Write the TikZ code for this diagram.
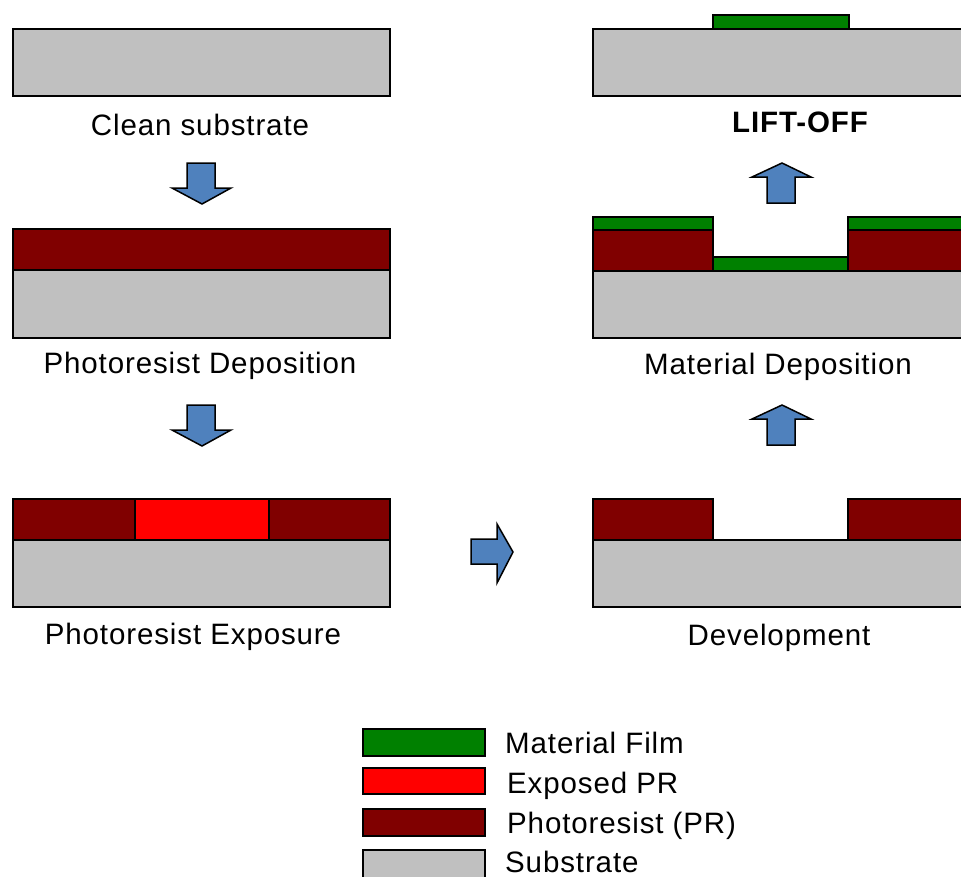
\documentclass[tikz,border=0pt]{standalone}
\usepackage{fontspec}
\setmainfont{Liberation Sans}[LetterSpace=3]
\definecolor{subgray}{RGB}{192,192,192}
\definecolor{prred}{RGB}{128,0,0}
\definecolor{expred}{RGB}{255,0,0}
\definecolor{filmgreen}{RGB}{0,128,0}
\definecolor{arrowblue}{RGB}{79,129,189}
\tikzset{
  layer/.style={draw=black, line width=1.5pt},
  sub/.style={layer, fill=subgray},
  pr/.style={layer, fill=prred},
  expo/.style={layer, fill=expred},
  film/.style={layer, fill=filmgreen},
  blockarrow/.style={draw=black, fill=arrowblue, line width=1.5pt, line join=miter},
  lbl/.style={anchor=base, inner sep=0pt},
  leg/.style={anchor=base west, inner sep=0pt}
}
\begin{document}
\begin{tikzpicture}[x=1pt, y={(0,-1pt)}, font=\fontsize{29.5}{34}\selectfont]
\useasboundingbox (0,0) rectangle (961,876);
% ---- Clean substrate
\draw[sub] (13,29) rectangle (390,96);
\node[lbl] (l1) at (200,135) {Clean substrate};
% arrow down 1
\draw[blockarrow] (187,163) -- (215,163) -- (215,188) -- (231,188) -- (202,204) -- (172,188) -- (187,188) -- cycle;
% ---- Photoresist deposition
\draw[sub] (13,270) rectangle (390,338);
\draw[pr] (13,229) rectangle (390,270);
\node[lbl] (l2) at (200,373) {Photoresist Deposition};
% arrow down 2
\draw[blockarrow] (187,405) -- (215,405) -- (215,430) -- (231,430) -- (202,446) -- (172,430) -- (187,430) -- cycle;
% ---- Photoresist exposure
\draw[sub] (13,540) rectangle (390,607);
\draw[pr] (13,499) rectangle (135,540);
\draw[expo] (135,499) rectangle (269,540);
\draw[pr] (269,499) rectangle (390,540);
\node[lbl] (l3) at (193,644) {Photoresist Exposure};
% right arrow
\draw[blockarrow] (471,539) -- (497,539) -- (497,524) -- (513,552) -- (497,583) -- (497,564) -- (471,564) -- cycle;
% ---- Development
\draw[sub] (593,540) rectangle (970,607);
\draw[pr] (593,499) rectangle (713,540);
\draw[pr] (848,499) rectangle (970,540);
\node[lbl] (l4) at (779,645) {Development};
% up arrow 2
\draw[blockarrow] (782,405) -- (811,419) -- (795,419) -- (795,445) -- (767,445) -- (767,419) -- (752,419) -- cycle;
% ---- Material deposition
\draw[sub] (593,271) rectangle (970,338);
\draw[pr] (593,230) rectangle (713,271);
\draw[pr] (848,230) rectangle (970,271);
\draw[film] (593,217) rectangle (713,230);
\draw[film] (848,217) rectangle (970,230);
\draw[film] (713,257) rectangle (848,271);
\node[lbl] (l5) at (778,374) {Material Deposition};
% up arrow 1
\draw[blockarrow] (782,163) -- (811,177) -- (795,177) -- (795,203) -- (767,203) -- (767,177) -- (752,177) -- cycle;
% ---- Lift-off
\draw[sub] (593,29) rectangle (970,96);
\draw[film] (713,15) rectangle (849,29);
\node[lbl, font=\fontsize{29.5}{34}\selectfont\bfseries] (l6) at (800,132) {LIFT-OFF};
% ---- Legend
\draw[film] (363,729) rectangle (485,756);
\draw[expo] (363,768) rectangle (485,794);
\draw[pr] (363,809) rectangle (485,836);
\draw[sub] (363,850) rectangle (485,886);
\node[leg] (g1) at (505,753) {Material Film};
\node[leg] (g2) at (507,793) {Exposed PR};
\node[leg] (g3) at (507,833) {Photoresist (PR)};
\node[leg] (g4) at (505,872) {Substrate};
\end{tikzpicture}
\end{document}
